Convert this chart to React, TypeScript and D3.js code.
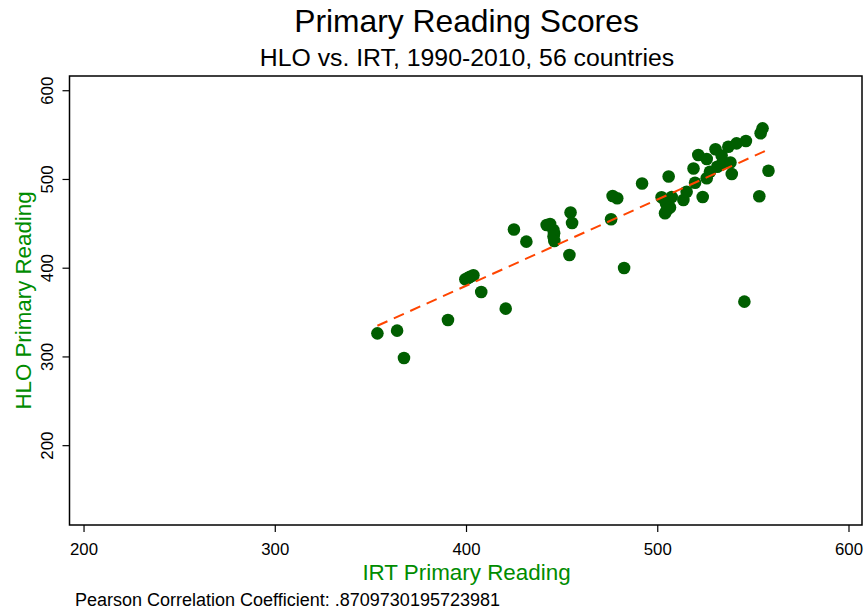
import React from "react";
import * as d3 from "d3";

const irt: number[] = [
  353.4, 363.7, 367.3, 390.3, 399.4, 401.8, 403.6, 400.8, 407.7, 420.5,
  424.8, 431.3, 441.9, 443.7, 445.4, 445.8, 445.5, 445.9, 453.8, 454.4,
  455.2, 475.6, 476.4, 478.8, 482.4, 491.8, 502.0, 507.3, 504.3, 506.4,
  503.8, 504.8, 505.7, 513.4, 515.1, 519.5, 523.5, 525.6, 518.7, 527.3,
  521.2, 525.6, 530.2, 531.1, 533.4, 533.3, 536.9, 538.0, 538.7, 541.2,
  546.1, 553.8, 554.8, 557.9, 553.1, 545.3,
];
const hlo: number[] = [
  326.6, 329.6, 298.8, 341.6, 387.5, 390.4, 392.0, 389.0, 373.2, 354.4,
  443.6, 429.9, 448.7, 449.8, 443.0, 439.3, 435.7, 430.6, 414.9, 462.8,
  450.9, 455.1, 481.4, 478.8, 400.2, 495.4, 479.9, 480.2, 473.1, 468.4,
  461.9, 465.6, 503.3, 476.8, 486.2, 496.3, 480.2, 501.3, 512.3, 508.7,
  527.5, 523.0, 534.0, 514.4, 527.0, 516.8, 536.9, 519.1, 506.1, 540.7,
  543.3, 552.0, 557.6, 509.9, 481.0, 362.3,
];
const xTicks: number[] = [200, 300, 400, 500, 600];
const yTicks: number[] = [200, 300, 400, 500, 600];

const W = 866;
const H = 611;
const left = 69.5, right = 862, top = 76, bottom = 525;
const FONT = "'Liberation Sans', Arial, Helvetica, sans-serif";

export default function App() {
  const x = d3.scaleLinear().domain([192.4, 606.8]).range([left, right]);
  const y = d3.scaleLinear().domain([110.6, 616.6]).range([bottom, top]);

  const mx = d3.mean(irt) as number;
  const my = d3.mean(hlo) as number;
  let sxy = 0, sxx = 0;
  irt.forEach((v, i) => {
    sxy += (v - mx) * (hlo[i] - my);
    sxx += (v - mx) * (v - mx);
  });
  const slope = sxy / sxx;
  const icpt = my - slope * mx;
  const [xmin, xmax] = d3.extent(irt) as [number, number];
  const fitLine = d3.line<number>().x((d) => x(d)).y((d) => y(icpt + slope * d));

  return (
    <svg
      width={W}
      height={H}
      style={{ position: "absolute", left: 0, top: 0, background: "#fff" }}
      fontFamily={FONT}
    >
      <rect x={0} y={0} width={W} height={H} fill="#fff" />
      <text x={466.5} y={32} textAnchor="middle" fontSize={31.8} fill="#000">
        Primary Reading Scores
      </text>
      <text x={467} y={66} textAnchor="middle" fontSize={24.8} fill="#000">
        HLO vs. IRT, 1990-2010, 56 countries
      </text>

      {hlo.map((v, i) => (
        <circle key={i} cx={x(irt[i])} cy={y(v)} r={6.3} fill="#005e00" />
      ))}

      <path
        d={fitLine([xmin, xmax]) as string}
        fill="none"
        stroke="#ff4500"
        strokeWidth={2}
        strokeDasharray="11,7"
      />

      <rect
        x={left}
        y={top}
        width={right - left}
        height={bottom - top}
        fill="none"
        stroke="#000"
        strokeWidth={1.5}
      />

      {xTicks.map((t) => (
        <g key={t}>
          <line x1={x(t)} x2={x(t)} y1={bottom} y2={bottom + 7} stroke="#000" strokeWidth={1.2} />
          <text x={x(t)} y={555} textAnchor="middle" fontSize={16.8} fill="#000">
            {t}
          </text>
        </g>
      ))}
      {yTicks.map((t) => (
        <g key={t}>
          <line x1={left - 7} x2={left} y1={y(t)} y2={y(t)} stroke="#000" strokeWidth={1.2} />
          <text
            transform={`translate(53,${y(t)}) rotate(-90)`}
            textAnchor="middle"
            fontSize={16.8}
            fill="#000"
          >
            {t}
          </text>
        </g>
      ))}

      <text x={466.5} y={580} textAnchor="middle" fontSize={22.4} fill="#008c00">
        IRT Primary Reading
      </text>
      <text
        transform={`translate(31,${(top + bottom) / 2}) rotate(-90)`}
        textAnchor="middle"
        fontSize={22.3}
        fill="#008c00"
      >
        HLO Primary Reading
      </text>

      <text x={75} y={606} fontSize={18} fill="#000">
        Pearson Correlation Coefficient: .8709730195723981
      </text>
    </svg>
  );
}
